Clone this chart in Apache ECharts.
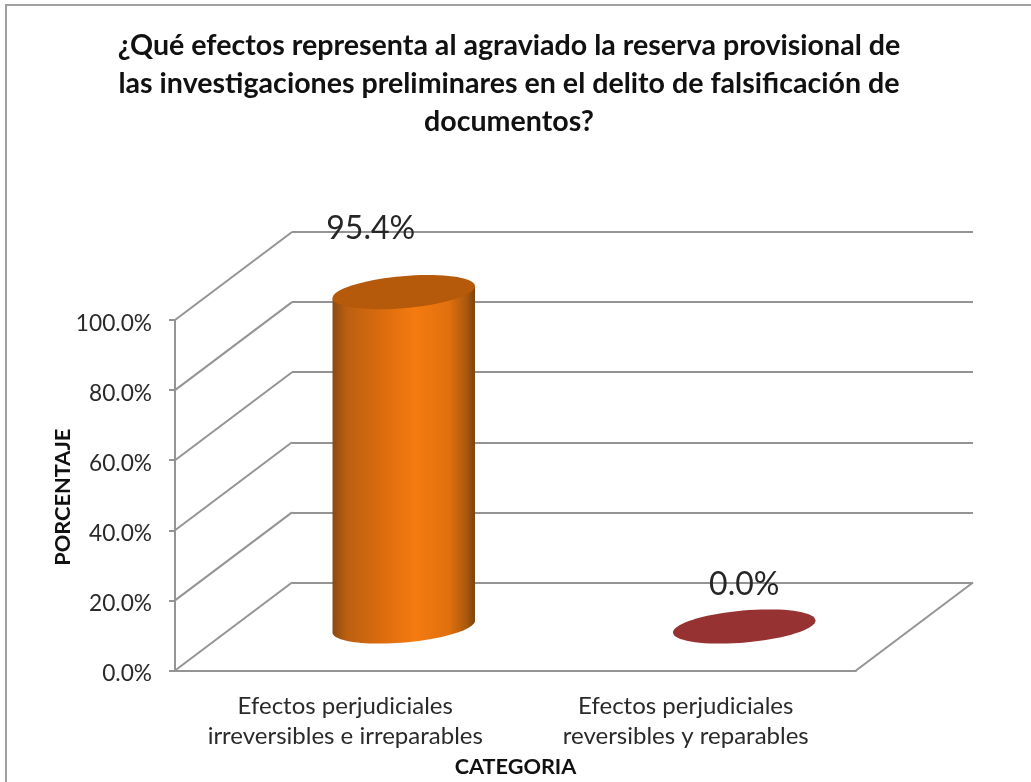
<!DOCTYPE html>
<html><head><meta charset="utf-8">
<style>html,body{margin:0;padding:0;background:#fff}#c{width:1031px;height:782px}</style>
<script src="https://cdn.jsdelivr.net/npm/echarts@6/dist/echarts.min.js"></script>
</head><body><div id="c"></div>
<script>
const categories = ['Efectos perjudiciales\nirreversibles e irreparables', 'Efectos perjudiciales\nreversibles y reparables'];
const percentages = [95.4, 0.0];
const yTicks = [0, 20, 40, 60, 80, 100];
const titleText = '¿Qué efectos representa al agraviado la reserva provisional de\nlas investigaciones preliminares en el delito de falsificación de\ndocumentos?';

const FONT = 'Lato';
const GRID = {left: 175, top: 320, width: 681, height: 350.5};
const DX = 117, DY = 88;
const AXIS = '#949494';
const AXIS_W = 2;
const TEXT = '#2a2a2a';
const RX = 71.5, RY = 16, TILT = 5 * Math.PI / 180;
const LABEL_SHIFT = [[-33, -63], [0, -42]];

function ell(cx, cy, t) {
  const x = RX * Math.cos(t), y = RY * Math.sin(t);
  return [cx + x * Math.cos(TILT) + y * Math.sin(TILT), cy - x * Math.sin(TILT) + y * Math.cos(TILT)];
}
function ellipsePts(cx, cy, a0, a1, n) {
  const p = [];
  for (let i = 0; i <= n; i++) p.push(ell(cx, cy, a0 + (a1 - a0) * i / n));
  return p;
}
const bodyFill = new echarts.graphic.LinearGradient(0, 0, 1, 0, [
  {offset: 0, color: '#8a4a12'}, {offset: 0.1, color: '#bb5f10'}, {offset: 0.35, color: '#dc6c0e'},
  {offset: 0.58, color: '#f57a10'}, {offset: 0.82, color: '#e0700e'}, {offset: 0.94, color: '#a9580d'}, {offset: 1, color: '#7c430c'}
]);
const topFills = ['#b5590b', '#963232'];

function renderCylinder(params, api) {
  const i = api.value(0), v = api.value(1);
  const base = api.coord([i, 0]), top = api.coord([i, v]);
  const cx = base[0] + DX / 2, by = base[1] - DY / 2, ty = top[1] - DY / 2;
  const children = [];
  if (v > 0) {
    const lower = ellipsePts(cx, by, 0, Math.PI, 48);
    const pts = [ell(cx, ty, Math.PI), ell(cx, ty, 0)];
    children.push({type: 'polygon', shape: {points: pts.concat(lower)}, style: {fill: bodyFill}});
  }
  children.push({type: 'polygon', shape: {points: ellipsePts(cx, ty, 0, Math.PI * 2, 72)}, style: {fill: topFills[i]}});
  children.push({type: 'text', style: {
    x: cx + LABEL_SHIFT[i][0], y: ty + LABEL_SHIFT[i][1],
    text: v.toFixed(1) + '%', font: '32px ' + FONT, fill: '#262626', align: 'center', verticalAlign: 'middle'
  }});
  return {type: 'group', children};
}
function renderSide(params, api) {
  const cs = params.coordSys;
  const y = api.coord([0, api.value(0)])[1];
  return {type: 'line', shape: {x1: cs.x, y1: y, x2: cs.x + DX, y2: y - DY}, style: {stroke: AXIS, lineWidth: AXIS_W}};
}
function renderFloorEdge(params, api) {
  const cs = params.coordSys;
  const y = api.coord([0, 0])[1];
  return {type: 'line', shape: {x1: cs.x + cs.width, y1: y, x2: cs.x + cs.width + DX, y2: y - DY}, style: {stroke: AXIS, lineWidth: AXIS_W}};
}

const chart = echarts.init(document.getElementById('c'), null, {renderer: 'canvas'});
chart.setOption({
  animation: false,
  backgroundColor: '#fff',
  title: {
    text: titleText, left: 504, top: 22, textAlign: 'center',
    textStyle: {fontFamily: FONT, fontWeight: 'bold', fontSize: 28.6, lineHeight: 38, color: '#111'}
  },
  grid: [
    {left: GRID.left, top: GRID.top, width: GRID.width, height: GRID.height},
    {left: GRID.left + DX, top: GRID.top - DY, width: GRID.width, height: GRID.height}
  ],
  xAxis: [
    {type: 'category', gridIndex: 0, data: categories, name: 'CATEGORIA', nameLocation: 'middle', nameGap: 86, nameMoveOverlap: false,
     nameTextStyle: {fontFamily: FONT, fontWeight: 'bold', fontSize: 21.7, color: '#111'},
     axisLine: {lineStyle: {color: AXIS, width: AXIS_W}}, axisTick: {length: 6, lineStyle: {color: AXIS, width: AXIS_W}},
     axisLabel: {fontFamily: FONT, fontSize: 24, lineHeight: 30, color: TEXT, margin: 21, interval: 0}},
    {type: 'category', gridIndex: 1, data: categories, show: false}
  ],
  yAxis: [
    {type: 'value', gridIndex: 0, min: 0, max: 100, interval: 20, name: 'PORCENTAJE', nameLocation: 'middle', nameRotate: 90, nameGap: 101, nameMoveOverlap: false,
     nameTextStyle: {fontFamily: FONT, fontWeight: 'bold', fontSize: 21.8, color: '#111', padding: [0, 4, 0, 0]},
     axisLine: {show: true, lineStyle: {color: AXIS, width: AXIS_W}}, axisTick: {show: true, length: 6, lineStyle: {color: AXIS, width: AXIS_W}},
     splitLine: {show: false},
     axisLabel: {fontFamily: FONT, fontSize: 22.7, color: TEXT, margin: 23, verticalAlign: 'top', lineHeight: 7, formatter: v => v.toFixed(1) + '%'}},
    {type: 'value', gridIndex: 1, min: 0, max: 100, interval: 20, axisLine: {show: false}, axisTick: {show: false}, axisLabel: {show: false},
     splitLine: {show: true, lineStyle: {color: AXIS, width: AXIS_W}}}
  ],
  graphic: [{type: 'rect', shape: {x: 6, y: 5, width: 1100, height: 900}, style: {fill: 'none', stroke: '#a0a0a0', lineWidth: 2}, silent: true, z: -1}],
  series: [
    {type: 'custom', xAxisIndex: 0, yAxisIndex: 0, clip: false, z: 1, data: yTicks.map(v => [v]), renderItem: renderSide, encode: {y: 0}},
    {type: 'custom', xAxisIndex: 0, yAxisIndex: 0, clip: false, z: 1, data: [[0]], renderItem: renderFloorEdge, encode: {y: 0}},
    {type: 'custom', xAxisIndex: 0, yAxisIndex: 0, clip: false, z: 5, data: percentages.map((v, i) => [i, v]), renderItem: renderCylinder, encode: {x: 0, y: 1}}
  ]
});
</script></body></html>
